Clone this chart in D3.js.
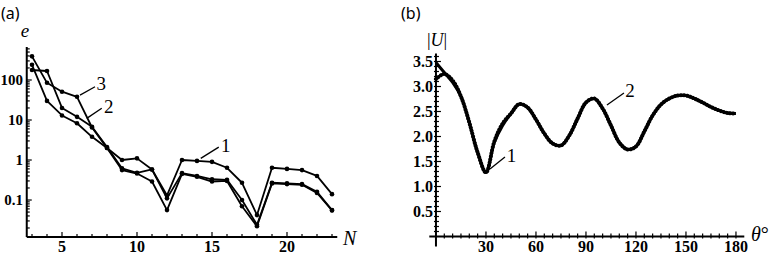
<!DOCTYPE html>
<head>
<meta charset="utf-8">
<script src="https://d3js.org/d3.v7.min.js"></script>
<style>
    body { margin: 0; background: #fff; }
    .ax { stroke: #000; stroke-width: 2; fill: none; }
    .tk { stroke: #000; stroke-width: 1.2; }
</style>
</head>
<body>
<svg id="chart" width="771" height="255"></svg>
<script>
// ---- panel (a): error e versus N ----
var nValues = [3, 4, 5, 6, 7, 8, 9, 10, 11, 12, 13, 14, 15, 16, 17, 18, 19, 20, 21, 22, 23];
var err1 = [240, 30, 13, 8.3, 3.8, 2.0, 1.0, 1.1, 0.58, 0.13, 1.0, 0.95, 0.9, 0.64, 0.27, 0.042, 0.64, 0.6, 0.56, 0.4, 0.14];
var err2 = [178, 168, 20, 12, 6.8, 2.1, 0.62, 0.48, 0.58, 0.11, 0.47, 0.4, 0.33, 0.32, 0.1, 0.024, 0.27, 0.26, 0.25, 0.16, 0.056];
var err3 = [390, 85, 51, 38, 6.5, 2.0, 0.56, 0.46, 0.29, 0.056, 0.45, 0.38, 0.29, 0.3, 0.07, 0.022, 0.26, 0.25, 0.24, 0.15, 0.055];
var xTicksA = [5, 10, 15, 20];
var yTicksA = [0.1, 1, 10, 100];
var yTickLabelsA = ["0.1", "1", "10", "100"];

// ---- panel (b): |U| versus theta ----
var thetaValues = [0, 5, 10, 15, 20, 25, 30, 35, 40, 45, 50, 55, 60, 65, 70, 75, 80, 85, 90,
                   95, 100, 105, 110, 115, 120, 125, 130, 135, 140, 145, 150, 155, 160, 165, 170, 175, 180];
var u2 = [3.48, 3.28, 3.08, 2.80, 2.28, 1.68, 1.28, 1.88, 2.22, 2.46, 2.65, 2.58, 2.34, 2.06, 1.86, 1.82, 2.02, 2.36, 2.68,
          2.76, 2.56, 2.22, 1.88, 1.74, 1.80, 2.10, 2.42, 2.64, 2.76, 2.82, 2.82, 2.76, 2.68, 2.59, 2.52, 2.47, 2.46];
var u1 = [3.15, 3.25, 3.12, 2.80, 2.28, 1.68, 1.28, 1.90, 2.26, 2.46, 2.65, 2.58, 2.34, 2.06, 1.86, 1.82, 2.02, 2.36, 2.68,
          2.76, 2.56, 2.22, 1.88, 1.74, 1.80, 2.10, 2.42, 2.64, 2.76, 2.82, 2.82, 2.76, 2.68, 2.59, 2.52, 2.47, 2.46];
var xTicksB = [30, 60, 90, 120, 150, 180];
var yTicksB = [0.5, 1.0, 1.5, 2.0, 2.5, 3.0, 3.5];

var fSerif = "'Liberation Serif'";
var fSans = "'Noto Sans'";
var svg = d3.select("#chart");

// =============== panel (a) ==================
var xA = d3.scaleLinear().domain([2.65, 23.35]).range([26.75, 337.25]);
var yA = d3.scaleLog().domain([0.0119, 668]).range([237, 47]);
var gA = svg.append("g");

// axes lines
gA.append("line").attr("class", "ax")
    .attr("x1", xA.range()[0]).attr("x2", xA.range()[1])
    .attr("y1", yA.range()[0]).attr("y2", yA.range()[0]);
gA.append("line").attr("class", "ax")
    .attr("x1", xA.range()[0]).attr("x2", xA.range()[0])
    .attr("y1", yA.range()[0]).attr("y2", yA.range()[1]);

// minor log ticks on y
var logTicks = yA.ticks().filter(function(d) { return d >= 0.0119 && d <= 668; });
gA.selectAll("line.ytk").data(logTicks).enter().append("line")
    .attr("class", "tk")
    .attr("x1", xA.range()[0]).attr("y1", function(d) { return yA(d); })
    .attr("x2", function(d) { return xA.range()[0] + (yTicksA.indexOf(d) >= 0 ? 5 : 3); })
    .attr("y2", function(d) { return yA(d); });
gA.selectAll("text.yl").data(yTicksA).enter().append("text")
    .style("font-family", fSerif).attr("font-weight", "bold").attr("font-size", 15)
    .attr("text-anchor", "end")
    .attr("x", 23).attr("y", function(d) { return yA(d) + 5; })
    .text(function(d, i) { return yTickLabelsA[i]; });

// x ticks
gA.selectAll("line.xtk").data(nValues).enter().append("line")
    .attr("class", "tk")
    .attr("x1", function(d) { return xA(d); }).attr("x2", function(d) { return xA(d); })
    .attr("y1", yA.range()[0]).attr("y2", function(d) { return yA.range()[0] - (xTicksA.indexOf(d) >= 0 ? 5 : 3); });
gA.selectAll("text.xl").data(xTicksA).enter().append("text")
    .style("font-family", fSerif).attr("font-weight", "bold").attr("font-size", 16)
    .attr("text-anchor", "middle")
    .attr("x", function(d) { return xA(d); }).attr("y", 252)
    .text(function(d) { return d; });

// curves
var lineA = d3.line()
    .x(function(d, i) { return xA(nValues[i]); })
    .y(function(d) { return yA(d); });
[err3, err2, err1].forEach(function(s) {
    gA.append("path").datum(s).attr("d", lineA)
        .attr("fill", "none").attr("stroke", "#000").attr("stroke-width", 1.8)
        .attr("stroke-linejoin", "round");
    gA.selectAll(null).data(s).enter().append("circle")
        .attr("cx", function(d, i) { return xA(nValues[i]); })
        .attr("cy", function(d) { return yA(d); })
        .attr("r", 2.3).attr("fill", "#000");
});

// curve labels (data coordinates)
var labelsA = [
    { t: "1", from: [14.25, 1.1], to: [15.45, 2.1], at: [15.6, 1.55] },
    { t: "3", from: [6.2, 42], to: [7.2, 68], at: [7.3, 55] },
    { t: "2", from: [6.65, 11], to: [7.65, 19.7], at: [7.8, 15] }
];
labelsA.forEach(function(l) {
    gA.append("line").attr("stroke", "#000").attr("stroke-width", 1.3)
        .attr("x1", xA(l.from[0])).attr("y1", yA(l.from[1]))
        .attr("x2", xA(l.to[0])).attr("y2", yA(l.to[1]));
    gA.append("text").style("font-family", fSerif).attr("x", xA(l.at[0])).attr("y", yA(l.at[1]))
        .attr("font-size", 19).text(l.t);
});

gA.append("text").style("font-family", fSerif).attr("x", 25).attr("y", 37).attr("font-size", 19)
    .attr("font-style", "italic").attr("text-anchor", "middle").text("e");
gA.append("text").style("font-family", fSerif).attr("x", 343).attr("y", 245).attr("font-size", 20)
    .attr("font-style", "italic").text("N");
gA.append("text").style("font-family", fSans).attr("font-size", 16)
    .attr("x", 1).attr("y", 19).text("(a)");

// =============== panel (b) ==================
var xB = d3.scaleLinear().domain([-4, 185]).range([429.3, 744.3]);
var yB = d3.scaleLinear().domain([-0.2, 3.66]).range([246.5, 53.5]);
var gB = svg.append("g");

gB.append("line").attr("class", "ax")
    .attr("x1", xB.range()[0]).attr("x2", xB.range()[1])
    .attr("y1", yB(0)).attr("y2", yB(0));
gB.append("line").attr("class", "ax")
    .attr("x1", xB(0)).attr("x2", xB(0))
    .attr("y1", yB.range()[0]).attr("y2", yB.range()[1]);

var yMinorB = d3.range(1, 37).map(function(i) { return i / 10; });
gB.selectAll("line.ytk").data(yMinorB).enter().append("line")
    .attr("class", "tk")
    .attr("x1", xB(0) - 2).attr("y1", function(d) { return yB(d); })
    .attr("x2", function(d) { return xB(0) + (Math.abs(d * 2 - Math.round(d * 2)) < 1e-6 ? 5 : 3); })
    .attr("y2", function(d) { return yB(d); });
gB.selectAll("text.yl").data(yTicksB).enter().append("text")
    .style("font-family", fSerif).attr("font-weight", "bold").attr("font-size", 16)
    .attr("text-anchor", "end")
    .attr("x", 433).attr("y", function(d) { return yB(d) + 5; })
    .text(function(d) { return d.toFixed(1); });

var xMinorB = d3.range(1, 37).map(function(i) { return i * 5; });
gB.selectAll("line.xtk").data(xMinorB).enter().append("line")
    .attr("class", "tk")
    .attr("x1", function(d) { return xB(d); }).attr("x2", function(d) { return xB(d); })
    .attr("y1", yB(0) + 2).attr("y2", function(d) { return yB(0) - (d % 30 === 0 ? 5 : 3); });
gB.selectAll("text.xl").data(xTicksB).enter().append("text")
    .style("font-family", fSerif).attr("font-weight", "bold").attr("font-size", 16)
    .attr("text-anchor", "middle")
    .attr("x", function(d) { return xB(d); }).attr("y", 252)
    .text(function(d) { return d; });

var lineB = d3.line()
    .x(function(d, i) { return xB(thetaValues[i]); })
    .y(function(d) { return yB(d); })
    .curve(d3.curveCatmullRom.alpha(0.5));
gB.append("path").datum(u1).attr("d", lineB)
    .attr("fill", "none").attr("stroke", "#000").attr("stroke-width", 4)
    .attr("stroke-linecap", "round").attr("stroke-dasharray", "0.1 3");
gB.append("path").datum(u2).attr("d", lineB)
    .attr("fill", "none").attr("stroke", "#000").attr("stroke-width", 3);

var labelsB = [
    { t: "1", from: [32.4, 1.35], to: [41.4, 1.59], at: [42.5, 1.5] },
    { t: "2", from: [102.6, 2.63], to: [112.8, 2.87], at: [113.5, 2.8] }
];
labelsB.forEach(function(l) {
    gB.append("line").attr("stroke", "#000").attr("stroke-width", 1.3)
        .attr("x1", xB(l.from[0])).attr("y1", yB(l.from[1]))
        .attr("x2", xB(l.to[0])).attr("y2", yB(l.to[1]));
    gB.append("text").style("font-family", fSerif).attr("x", xB(l.at[0])).attr("y", yB(l.at[1]))
        .attr("font-size", 19).text(l.t);
});

var uLabel = gB.append("text").style("font-family", fSerif).attr("x", 437).attr("y", 46)
    .attr("font-size", 18).attr("text-anchor", "middle");
uLabel.append("tspan").text("|");
uLabel.append("tspan").attr("font-style", "italic").text("U");
uLabel.append("tspan").text("|");
var thLabel = gB.append("text").style("font-family", fSerif).attr("x", 751).attr("y", 241).attr("font-size", 20);
thLabel.append("tspan").attr("font-style", "italic").text("θ");
thLabel.append("tspan").text("°");
gB.append("text").style("font-family", fSans).attr("font-size", 16)
    .attr("x", 401).attr("y", 19).text("(b)");
</script>
</body>
